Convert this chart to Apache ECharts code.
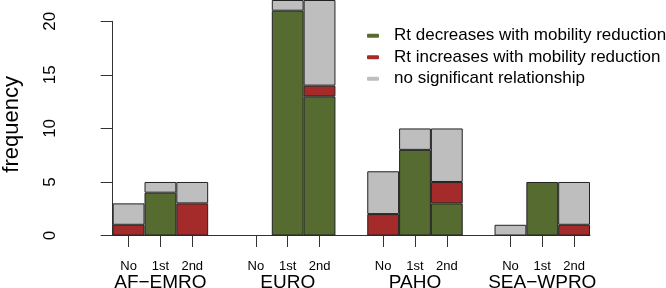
<!DOCTYPE html>
<html>
<head>
<meta charset="utf-8">
<script src="https://cdn.jsdelivr.net/npm/echarts@6/dist/echarts.min.js"></script>
<style>
  html, body { margin: 0; padding: 0; background: #fff; }
  #chart { width: 666px; height: 288px; }
</style>
</head>
<body>
<div id="chart"></div>
<script>
// regions and waves (one gap slot between regions)
const regions = ['AF−EMRO', 'EURO', 'PAHO', 'SEA−WPRO'];
const waves = ['No', '1st', '2nd'];
// counts per region, per wave
const decreases = [[0, 4, 0], [0, 21, 13], [0, 8, 3], [0, 5, 0]];
const increases = [[1, 0, 3], [0, 0, 1], [2, 0, 2], [0, 0, 1]];
const noSignif = [[2, 1, 2], [0, 1, 8], [4, 2, 5], [1, 0, 4]];
const yTicks = [0, 5, 10, 15, 20];

const seriesNames = [
  'Rt decreases with mobility reduction',
  'Rt increases with mobility reduction',
  'no significant relationship'
];
const colors = ['#556B2F', '#A52A2A', '#BEBEBE'];

// build slots: 3 bars per region + an empty slot between regions
const slots = [];
const flat = [[], [], []];
regions.forEach((r, ri) => {
  waves.forEach((w, wi) => {
    slots.push(r + '|' + w);
    // zero segments are skipped so they don't draw a doubled border
    [decreases, increases, noSignif].forEach((src, k) => {
      const v = src[ri][wi];
      flat[k].push(v === 0 ? '-' : v);
    });
  });
  if (ri < regions.length - 1) {
    slots.push('gap' + ri);
    flat.forEach(a => a.push('-'));
  }
});

const font = 'Liberation Sans, Arial, Helvetica, sans-serif';
const chart = echarts.init(document.getElementById('chart'));

const option = {
  animation: false,
  backgroundColor: '#fff',
  textStyle: { fontFamily: font },
  grid: [
    { left: 112.7, right: 76, top: 0, bottom: 52.5, outerBoundsMode: 'none', containLabel: false },
    { left: 112.7, right: 76, top: 21.3, bottom: 52.5, outerBoundsMode: 'none', containLabel: false }
  ],
  legend: {
    orient: 'vertical',
    left: 362,
    top: 20,
    itemWidth: 12,
    itemHeight: 4,
    itemGap: 0,
    icon: 'roundRect',
    itemStyle: { borderWidth: 0 },
    textStyle: { fontSize: 17, color: '#000', fontFamily: font, lineHeight: 21.5, padding: [0, 0, 0, 10] },
    data: seriesNames
  },
  xAxis: [
    {
      gridIndex: 0,
      type: 'category',
      data: slots,
      boundaryGap: true,
      axisLine: { show: true, lineStyle: { color: '#333', width: 1 } },
      axisTick: {
        show: true,
        alignWithLabel: true,
        length: 11.5,
        interval: (i, v) => v.indexOf('gap') !== 0,
        lineStyle: { color: '#333', width: 1 }
      },
      axisLabel: {
        interval: 0,
        margin: 24,
        fontSize: 13,
        color: '#000',
        formatter: v => (v.indexOf('gap') === 0 ? '' : v.split('|')[1])
      },
      splitLine: { show: false }
    },
    {
      gridIndex: 0,
      type: 'category',
      data: slots,
      position: 'bottom',
      axisLine: { show: false },
      axisTick: { show: false },
      axisLabel: {
        interval: 0,
        margin: 38,
        fontSize: 19,
        color: '#000',
        formatter: v => {
          const p = v.split('|');
          return p[1] === '1st' ? p[0] : '';
        }
      },
      splitLine: { show: false }
    },
    { gridIndex: 1, type: 'value', show: false, min: 0, max: 1 }
  ],
  yAxis: [
    { gridIndex: 0, type: 'value', min: 0, max: 22, show: false },
    {
      gridIndex: 1,
      type: 'value',
      min: 0,
      max: 20,
      interval: 5,
      offset: 21.7,
      name: 'frequency',
      nameLocation: 'middle',
      nameRotate: 90,
      nameGap: 68,
      nameTextStyle: { fontSize: 22, color: '#000', padding: [0, 0, 0, 8] },
      axisLine: { show: true, lineStyle: { color: '#333', width: 1 } },
      axisTick: { show: true, length: 12, lineStyle: { color: '#333', width: 1 } },
      axisLabel: { rotate: 90, margin: 32, fontSize: 17, color: '#000', formatter: v => String(v) },
      splitLine: { show: false },
      data: yTicks
    }
  ],
  series: seriesNames.map((name, k) => ({
    name,
    type: 'bar',
    stack: 'all',
    xAxisIndex: 0,
    yAxisIndex: 0,
    barCategoryGap: 0,
    barGap: 0,
    itemStyle: { color: colors[k], borderColor: '#222', borderWidth: 1 },
    emphasis: { disabled: true },
    data: flat[k]
  }))
};

chart.setOption(option);
</script>
</body>
</html>
